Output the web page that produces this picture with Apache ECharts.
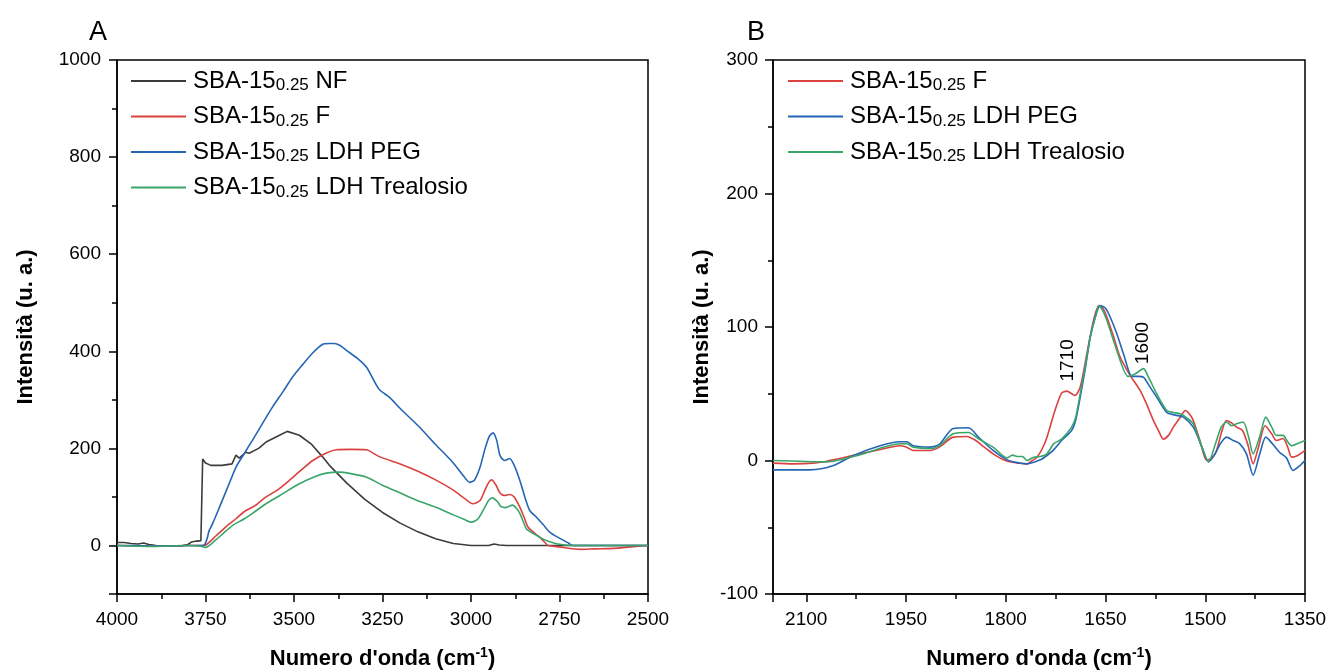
<!DOCTYPE html>
<html>
<head>
<meta charset="utf-8">
<script src="https://cdn.jsdelivr.net/npm/echarts@6/dist/echarts.min.js"></script>
<style>
html,body{margin:0;padding:0;background:#fff;}
#chart{width:1330px;height:670px;}
</style>
</head>
<body>
<div id="chart"></div>
<script>
// ---------- Panel A data (wavenumber cm-1, intensity a.u.) ----------
const aNfX = [4000,3980,3960,3940,3925,3910,3890,3860,3820,3800,3790,3775,3763,3758,3750,3735,3703,3675,3664,3655,3636,3627,3600,3579,3541,3519,3485,3450,3420,3400,3350,3300,3250,3200,3150,3100,3050,3000,2950,2935,2920,2900,2850,2800,2700,2600,2500];
const aNfY = [6,6,4,3,5,2,0,-1,-1,2,7,9,10,178,170,165,165,168,186,180,192,190,200,213,227,235,227,208,183,165,128,95,68,46,28,14,4,0,0,3,1,0,0,0,0,0,0];

const aFX = [4000,3900,3800,3760,3754,3720,3690,3664,3640,3610,3579,3545,3513,3480,3447,3410,3381,3340,3296,3259,3200,3150,3100,3050,3020,2995,2975,2960,2950,2942,2930,2918,2905,2891,2878,2862,2850,2839,2820,2806,2790,2783,2750,2692,2650,2599,2550,2500];
const aFY = [0,-1,0,0,0,20,40,55,70,82,100,115,134,155,175,190,197,198,197,183,168,153,135,114,98,86,92,115,130,135,125,108,103,105,100,79,58,38,25,17,5,0,-3,-8,-7,-6,-3,0];

const aPegX = [4000,3950,3900,3850,3800,3760,3752,3745,3740,3730,3711,3690,3664,3640,3618,3590,3561,3530,3505,3475,3448,3420,3400,3386,3370,3352,3320,3295,3260,3230,3200,3150,3100,3050,3020,3004,2990,2975,2960,2948,2938,2928,2918,2905,2891,2878,2862,2848,2834,2815,2795,2777,2750,2725,2712,2700,2650,2600,2550,2500];
const aPegY = [0,0,-1,-1,0,0,2,15,30,45,78,115,161,190,216,250,285,318,346,373,396,414,416,416,412,402,385,367,322,305,282,247,208,170,142,130,135,160,200,225,232,218,185,175,179,165,134,100,72,58,42,27,15,5,0,0,0,0,0,0];

const aTreX = [4000,3900,3800,3760,3750,3720,3700,3674,3640,3610,3579,3540,3485,3440,3409,3372,3340,3296,3250,3200,3150,3100,3050,3020,2999,2980,2960,2950,2940,2925,2915,2902,2883,2870,2860,2843,2825,2806,2787,2759,2735,2712,2650,2600,2500];
const aTreY = [0,-2,0,-2,-4,12,25,41,55,70,86,103,127,142,149,151,148,141,124,108,92,79,63,54,48,55,80,93,98,90,80,78,83,75,63,34,25,17,10,3.5,1,0,0,0,0];

// ---------- Panel B data ----------
const bFX = [2150,2120,2090,2069,2045,2019,1990,1959,1949,1939,1925,1914,1900,1879,1859,1845,1835,1819,1805,1794,1780,1768,1760,1753,1745,1738,1726,1716,1708,1696,1688,1678,1668,1660,1654,1648,1638,1628,1613,1598,1588,1578,1570,1563,1555,1548,1538,1530,1524,1518,1508,1498,1490,1483,1475,1468,1460,1453,1444,1436,1428,1420,1410,1400,1393,1383,1376,1370,1360,1350];
const bFY = [-2,-2.5,-2,-0.5,2,5,8,11,10,7.5,7.5,7.5,10,17.5,18,15,11,5,1,-1,-2,-2.5,0,2.5,9,17.5,37.5,50.5,52,48.7,55,80,105,116,114,107.5,93,77.5,63.8,52.5,42,30,22,16,19,25,32,37.5,35,30,15,0,2,7.5,22,30,28,25,22.5,12,-2.5,10,26,20,15,16.5,10,2.5,4,7.5];

const bPegX = [2150,2094,2059,2029,1989,1959,1949,1939,1914,1900,1879,1856,1840,1819,1800,1789,1768,1748,1738,1728,1716,1701,1695,1688,1680,1673,1665,1658,1650,1643,1633,1623,1610,1600,1593,1583,1573,1558,1545,1533,1518,1505,1495,1485,1478,1468,1458,1448,1438,1428,1418,1409,1398,1388,1378,1368,1358,1350];
const bPegY = [-7,-7,-3.75,3.75,11,14,14,11,10,12,24,24.5,17,7.5,1,-1,-2.5,0.5,3.75,8,15,22.5,30,47.5,70,92.5,108,116,114,107.5,95,80,63,63,62.5,55,47.5,36,34,32.5,25,10,-1,5,12,17.5,15,12.5,5,-11,5,17.5,12,6,2,-7.5,-4,0];

const bTreX = [2150,2069,2019,1959,1949,1939,1914,1900,1879,1856,1840,1819,1798,1790,1783,1775,1768,1758,1748,1738,1728,1716,1701,1695,1688,1680,1673,1665,1660,1654,1648,1633,1616,1605,1593,1585,1573,1558,1548,1538,1528,1518,1505,1495,1485,1476,1468,1460,1453,1443,1435,1428,1418,1409,1400,1393,1383,1376,1370,1360,1350];
const bTreY = [0,-1,4.4,12.5,12.5,10,9,11,20,21,16,10,2,4,3,3,0,2.5,3,5,12.5,16,25,32,50,72,92,108,116,112,105,82.5,63,65,68.8,62,50,37.5,36,35,32,27.5,10,-1,12,25,28.8,26,27.5,28.8,18,5,18,32.5,25,18.8,18.8,14,11,13,15];

// peak annotations in panel B: [label, x, y]
const bNotes = [['1710', 1706, 75], ['1600', 1594, 88]];

const namesA = ['NF', 'F', 'LDH PEG', 'LDH Trealosio'];
const namesB = ['F', 'LDH PEG', 'LDH Trealosio'];
const colors = {'NF': '#3c3c3c', 'F': '#d9423f', 'LDH PEG': '#2466b5', 'LDH Trealosio': '#3aa56b'};

const FONT = '"Liberation Sans", Arial, sans-serif';
const zip = (xs, ys) => xs.map((x, i) => [x, ys[i]]);

function axisCommon(margin) {
  return {
    axisLine: {show: true, onZero: false, lineStyle: {color: '#000', width: 1.5}},
    axisTick: {show: true, inside: false, length: 8, lineStyle: {color: '#000', width: 1.5}},
    minorTick: {show: true, splitNumber: 2, length: 5, lineStyle: {color: '#000', width: 1.5}},
    splitLine: {show: false},
    axisLabel: {color: '#000', fontSize: 19, fontFamily: FONT, margin: margin, formatter: v => String(v)}
  };
}
const xTitle = 'Numero d\'onda (cm{sup|-1})';
const xNameStyle = {
  fontSize: 22, fontWeight: 'bold', fontFamily: FONT, color: '#000', lineHeight: 26,
  rich: {sup: {fontSize: 14, fontWeight: 'bold', fontFamily: FONT, color: '#000', lineHeight: 14, verticalAlign: 'top'}}
};
const yNameStyle = {fontSize: 22, fontWeight: 'bold', fontFamily: FONT, color: '#000'};

function legendFor(names, left) {
  return {
    orient: 'vertical', left: left, top: 68, padding: 0, itemWidth: 55, itemHeight: 2, itemGap: 9.5,
    icon: 'rect',
    data: names,
    formatter: n => 'SBA-15{s|0.25} ' + n,
    textStyle: {
      fontSize: 24, fontFamily: FONT, color: '#000', lineHeight: 26, padding: [0, 0, 0, 2],
      rich: {s: {fontSize: 17, fontFamily: FONT, color: '#000', lineHeight: 8, verticalAlign: 'bottom'}}
    }
  };
}

function lineSeries(name, data, xi, extra) {
  return Object.assign({
    name: name, type: 'line', xAxisIndex: xi, yAxisIndex: xi, data: data,
    symbol: 'none', smooth: name === 'NF' ? false : 0.25,
    lineStyle: {color: colors[name], width: 1.6}, itemStyle: {color: colors[name]},
    z: name === 'NF' ? 2 : 3
  }, extra || {});
}

const gridBase = {top: 60, height: 534, show: true, borderColor: '#000', borderWidth: 1.5,
  backgroundColor: 'transparent', containLabel: false, outerBoundsMode: 'none'};

const option = {
  animation: false,
  backgroundColor: '#fff',
  title: [
    {text: 'A', left: 84, top: 14, textStyle: {fontSize: 27, fontWeight: 'normal', fontFamily: FONT, color: '#000'}},
    {text: 'B', left: 742, top: 14, textStyle: {fontSize: 27, fontWeight: 'normal', fontFamily: FONT, color: '#000'}}
  ],
  grid: [
    Object.assign({left: 117, width: 531}, gridBase),
    Object.assign({left: 773, width: 532}, gridBase)
  ],
  legend: [legendFor(namesA, 131), legendFor(namesB, 788)],
  xAxis: [
    Object.assign(axisCommon(16), {type: 'value', gridIndex: 0, min: 2500, max: 4000, interval: 250, inverse: true,
      name: xTitle, nameLocation: 'middle', nameGap: 52, nameTextStyle: xNameStyle}),
    Object.assign(axisCommon(16), {type: 'value', gridIndex: 1, min: 1350, max: 2150, interval: 150, inverse: true,
      name: xTitle, nameLocation: 'middle', nameGap: 52, nameTextStyle: xNameStyle})
  ],
  yAxis: [
    Object.assign(axisCommon(16), {type: 'value', gridIndex: 0, min: -100, max: 1000, splitNumber: 5,
      name: 'Intensità (u. a.)', nameLocation: 'middle', nameGap: 80, nameTextStyle: yNameStyle}),
    Object.assign(axisCommon(15), {type: 'value', gridIndex: 1, min: -100, max: 300, interval: 100,
      name: 'Intensità (u. a.)', nameLocation: 'middle', nameGap: 60, nameTextStyle: yNameStyle})
  ],
  series: [
    lineSeries('NF', zip(aNfX, aNfY), 0),
    lineSeries('F', zip(aFX, aFY), 0),
    lineSeries('LDH PEG', zip(aPegX, aPegY), 0),
    lineSeries('LDH Trealosio', zip(aTreX, aTreY), 0),
    lineSeries('F', zip(bFX, bFY), 1, {
      markPoint: {
        symbol: 'circle', symbolSize: 0,
        label: {show: true, position: 'inside', rotate: 90, formatter: p => p.name, fontSize: 19, fontFamily: FONT, color: '#000'},
        data: bNotes.map(n => ({name: n[0], coord: [n[1], n[2]]}))
      }
    }),
    lineSeries('LDH PEG', zip(bPegX, bPegY), 1),
    lineSeries('LDH Trealosio', zip(bTreX, bTreY), 1)
  ]
};
option.xAxis[1].axisLabel.showMaxLabel = false;
option.yAxis[0].axisLabel.showMinLabel = false;

const chart = echarts.init(document.getElementById('chart'), null, {renderer: 'canvas'});
chart.setOption(option);
</script>
</body>
</html>
